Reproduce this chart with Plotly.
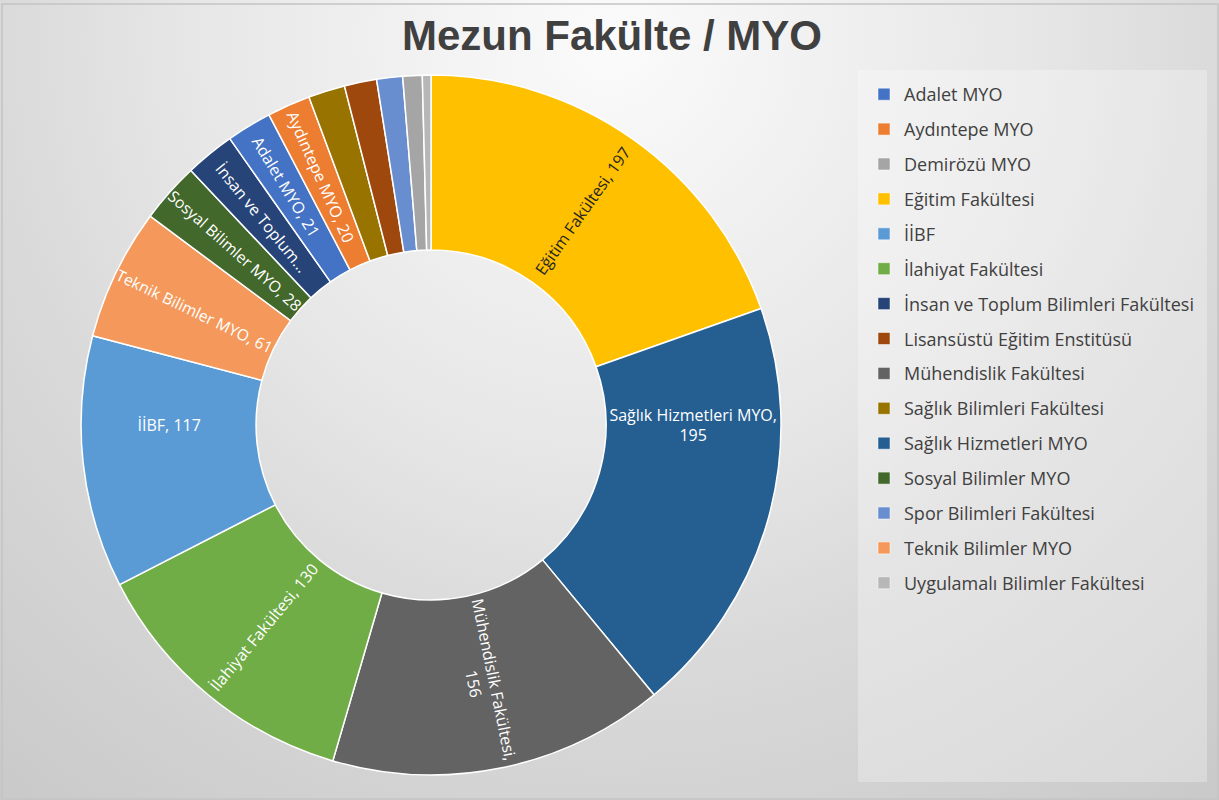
import base64
import plotly.graph_objects as go

# ---- data (clockwise from 12 o'clock, as in the reference) ----
labels = [
    "Eğitim Fakültesi", "Sağlık Hizmetleri MYO", "Mühendislik Fakültesi",
    "İlahiyat Fakültesi", "İİBF", "Teknik Bilimler MYO", "Sosyal Bilimler MYO",
    "İnsan ve Toplum Bilimleri Fakültesi", "Adalet MYO", "Aydıntepe MYO",
    "Sağlık Bilimleri Fakültesi", "Lisansüstü Eğitim Enstitüsü",
    "Spor Bilimleri Fakültesi", "Demirözü MYO", "Uygulamalı Bilimler Fakültesi",
]
values = [197, 195, 156, 130, 117, 61, 28, 23, 21, 20, 17, 15, 12, 9, 4]
colors = [
    "#FFC000", "#255E91", "#636363", "#70AD47", "#5B9BD5", "#F4995B", "#43682B",
    "#264478", "#4472C4", "#ED7D31", "#997300", "#9E480E", "#698ED0", "#A5A5A5",
    "#B7B7B7",
]
# data-label names as shown on the slices ("" = no label)
label_names = [
    "Eğitim Fakültesi", "Sağlık Hizmetleri MYO,<br>", "Mühendislik Fakültesi,<br>",
    "İlahiyat Fakültesi", "İİBF", "Teknik Bilimler MYO", "Sosyal Bilimler MYO",
    "İnsan ve Toplum...", "Adalet MYO", "Aydıntepe MYO", "", "", "", "", "",
]
label_colors = ["#262626"] + ["#FFFFFF"] * 14
legend_order = [
    "Adalet MYO", "Aydıntepe MYO", "Demirözü MYO", "Eğitim Fakültesi", "İİBF",
    "İlahiyat Fakültesi", "İnsan ve Toplum Bilimleri Fakültesi",
    "Lisansüstü Eğitim Enstitüsü", "Mühendislik Fakültesi",
    "Sağlık Bilimleri Fakültesi", "Sağlık Hizmetleri MYO", "Sosyal Bilimler MYO",
    "Spor Bilimleri Fakültesi", "Teknik Bilimler MYO",
    "Uygulamalı Bilimler Fakültesi",
]

texts = []
for n, v in zip(label_names, values):
    if not n:
        texts.append("")
    elif n.endswith("<br>"):
        texts.append(n + str(v))
    elif n.endswith("..."):
        texts.append(n)
    else:
        texts.append(f"{n}, {v}")

W, H = 1219, 800

fig = go.Figure()
fig.add_trace(go.Pie(
    labels=labels, values=values, text=texts, textinfo="text",
    sort=False, direction="clockwise", rotation=0, hole=0.5,
    marker=dict(colors=colors, line=dict(color="#FFFFFF", width=1.5)),
    insidetextorientation="radial", textposition="inside",
    insidetextfont=dict(family="Open Sans, Lato, sans-serif", size=16, color=label_colors),
    domain=dict(x=[0.0665, 0.6407], y=[0.03125, 0.90625]),
    showlegend=False, hoverinfo="label+value+percent",
))

cmap = dict(zip(labels, colors))
for i, name in enumerate(legend_order):
    fig.add_trace(go.Scatter(
        x=[None], y=[None], mode="markers", name=name, legendgroup=f"g{i}",
        marker=dict(symbol="square", size=12, color=cmap[name],
                    line=dict(color="#FFFFFF", width=0.5)),
        hoverinfo="skip",
    ))

svg = f'''<svg xmlns="http://www.w3.org/2000/svg" width="{W}" height="{H}" viewBox="0 0 {W} {H}" preserveAspectRatio="none">
<defs><radialGradient id="g" gradientUnits="userSpaceOnUse" cx="610" cy="40" r="1000">
<stop offset="0" stop-color="#fbfbfb"/><stop offset="0.43" stop-color="#e6e6e6"/>
<stop offset="0.61" stop-color="#dadada"/><stop offset="1" stop-color="#c8c8c8"/>
</radialGradient></defs>
<rect x="0" y="0" width="{W}" height="{H}" fill="url(#g)"/>
<rect x="2" y="4" width="{W-3}" height="{H-5}" fill="none" stroke="#c4c4c4" stroke-width="1.5"/>
</svg>'''
src = "data:image/svg+xml;base64," + base64.b64encode(svg.encode("utf-8")).decode("ascii")

fig.update_layout(
    width=W, height=H,
    margin=dict(l=0, r=0, t=0, b=0),
    paper_bgcolor="#e4e4e4", plot_bgcolor="rgba(0,0,0,0)",
    images=[dict(source=src, xref="paper", yref="paper", x=0, y=1, sizex=1, sizey=1,
                 xanchor="left", yanchor="top", sizing="stretch", layer="below")],
    title=dict(text="<b>Mezun Fakülte / MYO</b>", x=0.502, xanchor="center",
               y=1 - 35 / H, yanchor="middle",
               font=dict(family="Liberation Sans, Arial, sans-serif", size=42, color="#404040")),
    xaxis=dict(visible=False), yaxis=dict(visible=False),
    legend=dict(x=864 / W, y=1 - 76 / H, xanchor="left", yanchor="top",
                bgcolor="rgba(0,0,0,0)", traceorder="grouped", tracegroupgap=8.5,
                font=dict(family="Open Sans, Lato, sans-serif", size=18, color="#404040"),
                itemclick=False, itemdoubleclick=False),
    shapes=[dict(type="rect", xref="paper", yref="paper",
                 x0=858 / W, x1=1207 / W, y0=1 - 782 / H, y1=1 - 70 / H,
                 fillcolor="rgba(255,255,255,0.28)", line=dict(width=0), layer="below")],
    showlegend=True,
)

fig.write_html("out.html", config={"displayModeBar": False},
               post_script="document.body.style.margin='0';document.body.style.overflow='hidden';")
